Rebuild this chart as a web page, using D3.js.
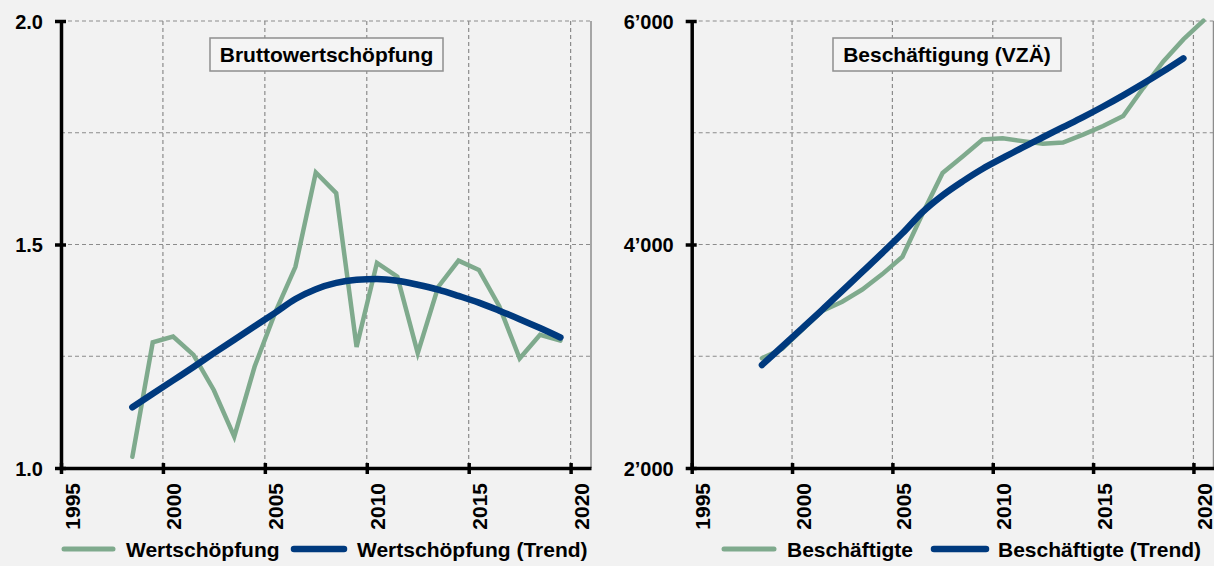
<!DOCTYPE html>
<html><head><meta charset="utf-8">
<script src="https://cdn.jsdelivr.net/npm/d3@7"></script>
<style>
body{margin:0;background:#f2f2f2;}
svg{display:block;}
text{font-family:"Liberation Sans",Arial,Helvetica,sans-serif;font-weight:bold;fill:#000;}
</style></head><body>
<svg id="c" width="1214" height="566"></svg>
<script>
// ---------- data ----------
const xTicks = [1995, 2000, 2005, 2010, 2015, 2020];
const xGrid = [2000, 2005, 2010, 2015, 2020];

const wertYears = [1998,1999,2000,2001,2002,2003,2004,2005,2006,2007,2008,2009,2010,2011,2012,2013,2014,2015,2016,2017,2018,2019];
const wert = [1.025,1.281,1.294,1.253,1.174,1.070,1.227,1.347,1.450,1.661,1.615,1.271,1.459,1.428,1.257,1.405,1.464,1.443,1.362,1.245,1.298,1.285];
const wertTrendYears = [1998,1999,2000,2001,2002,2003,2004,2005,2006,2007,2008,2009,2010,2011,2012,2013,2014,2015,2016,2017,2018,2019];
const wertTrend = [1.136,1.166,1.196,1.226,1.257,1.287,1.317,1.347,1.378,1.400,1.414,1.421,1.423,1.419,1.410,1.399,1.385,1.370,1.352,1.333,1.313,1.292];
const wertYTicks = [1.0, 1.5, 2.0];
const wertYGrid = [1.25, 1.5, 1.75, 2.0];

const beschYears = [1998,1999,2000,2001,2002,2003,2004,2005,2006,2007,2008,2009,2010,2011,2012,2013,2014,2015,2016,2017,2018,2019,2020];
const besch = [2982,3065,3235,3405,3488,3597,3735,3890,4275,4640,4788,4940,4950,4925,4902,4913,4983,5060,5150,5400,5638,5835,6003];
const beschTrendYears = [1998,1999,2000,2001,2002,2003,2004,2005,2006,2007,2008,2009,2010,2011,2012,2013,2014,2015,2016,2017,2018,2019];
const beschTrend = [2922,3085,3250,3415,3585,3755,3925,4100,4290,4440,4565,4678,4775,4870,4960,5050,5140,5235,5335,5440,5550,5666];
const beschYTicks = [2000, 4000, 6000];
const beschYGrid = [3000, 4000, 5000, 6000];

const GREEN = "#7faa8d", BLUE = "#003a7e", GRID = "#8c8c8c";

const chLocale = d3.formatLocale({decimal: ".", thousands: "\u2019", grouping: [3], currency: ["", ""]});

const svg = d3.select("#c");

function panel(o) {
  const g = svg.append("g");
  const x = d3.scaleLinear().domain([1995, 2021]).range([o.x0, o.x1]);
  const y = d3.scaleLinear().domain(o.yDomain).range([468, 21]);

  // horizontal grid
  g.selectAll(".gh").data(o.gridY).join("line")
    .attr("x1", o.x0).attr("x2", o.x1)
    .attr("y1", d => y(d)).attr("y2", d => y(d))
    .attr("stroke", GRID).attr("stroke-width", 1.2).attr("stroke-dasharray", "4,3");
  // vertical grid
  g.selectAll(".gv").data(xGrid).join("line")
    .attr("x1", d => x(d)).attr("x2", d => x(d))
    .attr("y1", y(o.yDomain[1])).attr("y2", y(o.yDomain[0]))
    .attr("stroke", GRID).attr("stroke-width", 1.2).attr("stroke-dasharray", "4,3");
  // right border
  g.append("line").attr("x1", x(2021)).attr("x2", x(2021))
    .attr("y1", y(o.yDomain[1])).attr("y2", y(o.yDomain[0]))
    .attr("stroke", GRID).attr("stroke-width", 1.5);

  // title box
  g.append("rect").attr("x", o.box[0]).attr("y", 38).attr("width", o.box[1] - o.box[0]).attr("height", 33)
    .attr("fill", "#f4f4f4").attr("stroke", "#8f8f8f").attr("stroke-width", 1.5);
  g.append("text").attr("x", (o.box[0] + o.box[1]) / 2).attr("y", 62)
    .attr("text-anchor", "middle").attr("font-size", 21).text(o.title);

  // series
  const line = d3.line().x(d => x(d[0] + 0.5)).y(d => y(d[1]));
  g.append("path").datum(o.years.map((yr, i) => [yr, o.values[i]]))
    .attr("d", line).attr("fill", "none").attr("stroke", GREEN).attr("stroke-width", 4.5)
    .attr("stroke-linejoin", "miter").attr("stroke-linecap", "round");
  const lineT = d3.line().curve(d3.curveMonotoneX).x(d => x(d[0] + 0.5)).y(d => y(d[1]));
  g.append("path").datum(o.trendYears.map((yr, i) => [yr, o.trend[i]]))
    .attr("d", lineT).attr("fill", "none").attr("stroke", BLUE).attr("stroke-width", 6.5)
    .attr("stroke-linecap", "round");

  // y axis
  const ay = g.append("g").attr("transform", `translate(${o.x0},0)`)
    .call(d3.axisLeft(y).tickValues(o.yTicks).tickFormat(o.fmt).tickSize(6).tickSizeOuter(0).tickPadding(12));
  ay.select(".domain").attr("stroke", "#000").attr("stroke-width", 3.5);
  ay.selectAll(".tick line").attr("x1", 5).attr("stroke", "#000").attr("stroke-width", 3.5);
  ay.selectAll(".tick text").attr("font-size", 20).attr("dy", "0.36em");

  // x axis
  const ax = g.append("g").attr("transform", `translate(0,468)`)
    .call(d3.axisBottom(x).tickValues(xTicks).tickFormat(d3.format("d")).tickSize(6).tickSizeOuter(0));
  ax.select(".domain").attr("stroke", "#000").attr("stroke-width", 3.5);
  ax.selectAll(".tick line").attr("y1", -5).attr("stroke", "#000").attr("stroke-width", 3.5);
  ax.selectAll(".tick text").attr("font-size", 21).attr("x", 0).attr("y", 0).attr("dy", null)
    .attr("text-anchor", "end").attr("transform", "translate(18,15) rotate(-90)");

  // legend
  o.legend.forEach(L => {
    g.append("line").attr("x1", L.l0).attr("x2", L.l1).attr("y1", 549).attr("y2", 549)
      .attr("stroke", L.color).attr("stroke-width", L.w).attr("stroke-linecap", "round");
    g.append("text").attr("x", L.tx).attr("y", 556.5).attr("font-size", 21).text(L.label);
  });
}

panel({
  x0: 61, x1: 591, yDomain: [1, 2], yTicks: wertYTicks, gridY: wertYGrid,
  fmt: d3.format(".1f"), title: "Bruttowertschöpfung", box: [210, 443],
  years: wertYears, values: wert, trendYears: wertTrendYears, trend: wertTrend,
  legend: [
    {l0: 64, l1: 113, color: GREEN, w: 5, tx: 126, label: "Wertschöpfung"},
    {l0: 294, l1: 344, color: BLUE, w: 6.5, tx: 357, label: "Wertschöpfung (Trend)"}
  ]
});

panel({
  x0: 691.7, x1: 1213.5, yDomain: [2000, 6000], yTicks: beschYTicks, gridY: beschYGrid,
  fmt: chLocale.format(","), title: "Beschäftigung (VZÄ)", box: [833, 1061],
  years: beschYears, values: besch, trendYears: beschTrendYears, trend: beschTrend,
  legend: [
    {l0: 724, l1: 774, color: GREEN, w: 5, tx: 787, label: "Beschäftigte"},
    {l0: 934, l1: 986, color: BLUE, w: 6.5, tx: 998, label: "Beschäftigte (Trend)"}
  ]
});
</script>
</body></html>
